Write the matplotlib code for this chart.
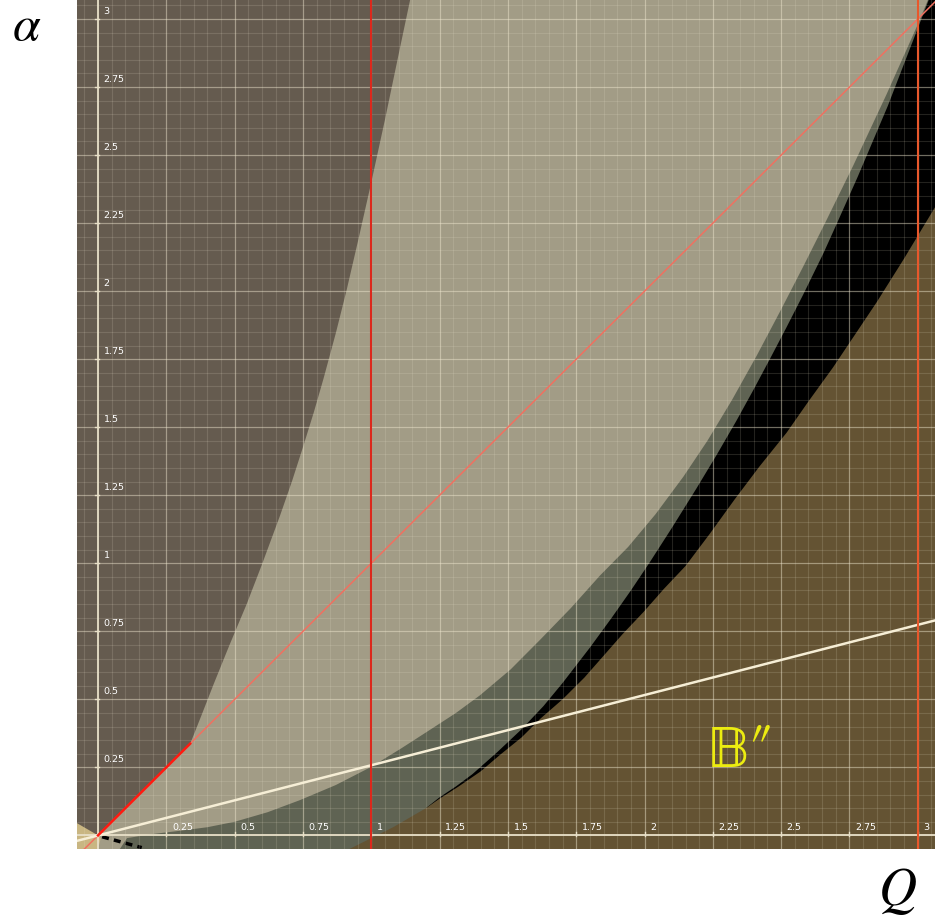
import numpy as np
import matplotlib.pyplot as plt

plt.rcParams['mathtext.fontset'] = 'stix'

# window of the plot (Q across, alpha up)
q_min, q_max = -0.077, 3.063
a_min, a_max = -0.05, 3.07

tick_vals = [0.25, 0.5, 0.75, 1, 1.25, 1.5, 1.75, 2, 2.25, 2.5, 2.75, 3]
tick_text = ['0.25', '0.5', '0.75', '1', '1.25', '1.5', '1.75', '2', '2.25', '2.5', '2.75', '3']

# region boundaries, (Q, alpha) pairs
# left edge of the light zone (along alpha = Q first, then the steep curve)
edge_a_q = [0.0, 0.337, 0.38, 0.422, 0.48, 0.544, 0.60, 0.666, 0.71, 0.751, 0.79, 0.825,
            0.87, 0.91, 0.955, 1.0, 1.05, 1.10, 1.142]
edge_a_a = [0.0, 0.336, 0.445, 0.553, 0.697, 0.85, 0.996, 1.175, 1.302, 1.43, 1.556, 1.678,
            1.845, 2.005, 2.20, 2.40, 2.63, 2.87, 3.07]
# light / grey-green boundary
edge_b_q = [0.08, 0.106, 0.2, 0.3, 0.4, 0.5, 0.62, 0.74, 0.87, 1.0, 1.11, 1.215, 1.31, 1.398,
            1.51, 1.617, 1.73, 1.837, 1.94, 2.04, 2.142, 2.23, 2.32, 2.41, 2.50, 2.58, 2.66,
            2.764, 2.886, 3.0, 3.037]
edge_b_a = [-0.05, -0.01, 0.005, 0.017, 0.03, 0.05, 0.085, 0.13, 0.185, 0.252, 0.32, 0.388,
            0.45, 0.515, 0.61, 0.718, 0.835, 0.955, 1.06, 1.18, 1.318, 1.45, 1.60, 1.762,
            1.933, 2.089, 2.249, 2.462, 2.724, 2.98, 3.07]
# grey-green / black boundary
edge_c_q = [1.20, 1.25, 1.31, 1.37, 1.46, 1.55, 1.63, 1.70, 1.80, 1.88, 1.95, 2.02, 2.10,
            2.19, 2.265, 2.337, 2.40, 2.46, 2.52, 2.58, 2.655, 2.70, 2.78, 2.89, 3.04]
edge_c_a = [0.10, 0.14, 0.18, 0.225, 0.305, 0.39, 0.475, 0.56, 0.69, 0.80, 0.90, 1.005, 1.13,
            1.275, 1.40, 1.525, 1.64, 1.753, 1.868, 1.986, 2.14, 2.24, 2.42, 2.68, 3.07]
# black / brown boundary
edge_d_q = [0.92, 0.97, 1.02, 1.08, 1.14, 1.20, 1.25, 1.32, 1.40, 1.47, 1.55, 1.62, 1.70,
            1.78, 1.85, 1.92, 2.00, 2.07, 2.15, 2.24, 2.33, 2.42, 2.52, 2.60, 2.69, 2.77,
            2.85, 2.95, 3.07]
edge_d_a = [-0.05, -0.025, 0.0, 0.03, 0.065, 0.10, 0.135, 0.18, 0.235, 0.295, 0.36, 0.43,
            0.50, 0.58, 0.66, 0.74, 0.825, 0.905, 0.99, 1.11, 1.235, 1.355, 1.48, 1.595,
            1.72, 1.84, 1.96, 2.12, 2.32]
# small tan wedge left of the origin
wedge_q = [-0.077, 0.0, 0.01, 0.0, -0.077]
wedge_a = [0.045, 0.0, -0.01, -0.05, -0.05]
# thin black sliver just under the origin
sliver_q = [0.015, 0.16]
sliver_a = [-0.005, -0.045]

# lines
diag_q = [-0.05, 3.063]
diag_red_q = [0.0, 0.337]
white_q = [-0.077, 3.063]
white_a = [-0.02, 0.79]
vert_q = [1, 3]
vert_col = ['#dc281c', '#e8582c']

c_bg = '#655b4f'
c_light = '#a29c86'
c_grey = '#5f6353'
c_black = '#000000'
c_brown = '#645333'
c_tan = '#c9b682'


def fill_below(ax, q, a, color, z):
    xr, yb = q_max + 0.2, a_min - 0.2
    xs = list(q) + [xr, xr, q[0]]
    ys = list(a) + [a[-1], yb, yb]
    ax.fill(xs, ys, color=color, lw=0, zorder=z)


fig = plt.figure(figsize=(9.35, 9.22), dpi=100)
ax = fig.add_axes([77 / 935, 73 / 922, 858 / 935, 849 / 922])
ax.set_facecolor(c_bg)
ax.set_xlim(q_min, q_max)
ax.set_ylim(a_min, a_max)

fill_below(ax, edge_a_q, edge_a_a, c_light, 1)
fill_below(ax, edge_b_q, edge_b_a, c_grey, 1.1)
fill_below(ax, edge_c_q, edge_c_a, c_black, 1.2)
fill_below(ax, edge_d_q, edge_d_a, c_brown, 1.3)
ax.fill(wedge_q, wedge_a, color=c_tan, lw=0, zorder=1.4)
ax.plot(sliver_q, sliver_a, color='black', lw=2.5, dashes=(2, 1.5), zorder=1.5)

# grid: minor every 0.05, major every 0.25
minor = np.arange(-0.05, 3.1, 0.05)
major = np.arange(0.25, 3.1, 0.25)
for v in minor:
    ax.axvline(v, color='#f0e8d0', lw=0.8, alpha=0.15, zorder=2)
    ax.axhline(v, color='#f0e8d0', lw=0.8, alpha=0.15, zorder=2)
for v in major:
    ax.axvline(v, color='#f0e8d0', lw=0.9, alpha=0.38, zorder=2.1)
    ax.axhline(v, color='#f0e8d0', lw=0.9, alpha=0.38, zorder=2.1)
ax.axvline(0, color='#e8e0c8', lw=1.3, zorder=2.2)
ax.axhline(0, color='#e8e0c8', lw=1.3, zorder=2.2)

# tick marks and labels drawn on the axes through the origin
for v, s in zip(tick_vals, tick_text):
    ax.plot([v, v], [-0.004, 0.012], color='#e8e0c8', lw=1.0, zorder=2.3)
    ax.plot([-0.012, 0.004], [v, v], color='#e8e0c8', lw=1.0, zorder=2.3)
    ax.annotate(s, (v, 0), xytext=(4, 2.5), textcoords='offset points',
                color='white', fontsize=6.8, ha='left', va='bottom', zorder=4)
    ax.annotate(s, (0, v), xytext=(4, 2.5), textcoords='offset points',
                color='white', fontsize=6.8, ha='left', va='bottom', zorder=4)

ax.plot(diag_q, diag_q, color='#f07060', lw=1.1, zorder=3)
ax.plot(diag_red_q, diag_red_q, color='#ff1a10', lw=1.8, zorder=3.1)
ax.plot(white_q, white_a, color='#f6eed6', lw=1.8, zorder=3)
for v, c in zip(vert_q, vert_col):
    ax.axvline(v, color=c, lw=1.5, zorder=3)

ax.text(2.232, 0.251, '\U0001D539\u2033', color='#ecec10', fontsize=44,
        family=['STIXGeneral', 'DejaVu Sans'], ha='left', va='baseline', zorder=4)

for s in ax.spines.values():
    s.set_visible(False)
ax.set_xticks([])
ax.set_yticks([])

fig.text(12 / 935, 1 - 2 / 922, r'$\alpha$', fontsize=36, ha='left', va='top')
fig.text(878 / 935, 1 - 905 / 922, r'$Q$', fontsize=38, ha='left', va='baseline')

fig.savefig('out.png', dpi=100)
